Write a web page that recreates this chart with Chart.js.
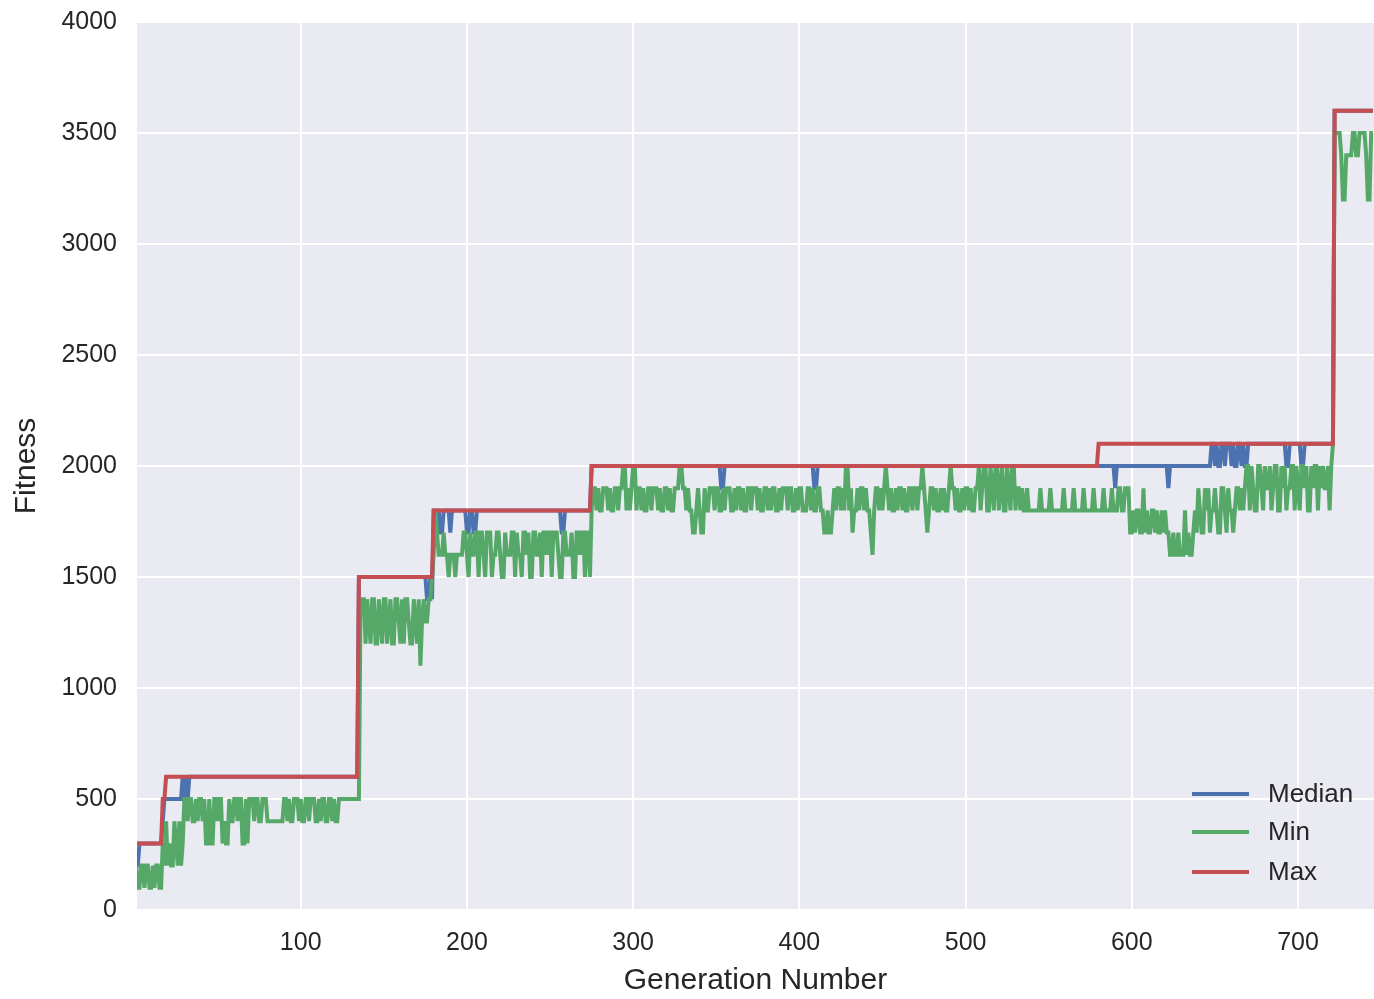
<!DOCTYPE html>
<html>
<head>
<meta charset="utf-8">
<script src="https://cdn.jsdelivr.net/npm/chart.js@4.4.1/dist/chart.umd.min.js"></script>
<style>
  body { margin: 0; background: #ffffff; }
  #wrap { width: 1374px; height: 999px; position: relative; }
</style>
</head>
<body>
<div id="wrap"><canvas id="myChart"></canvas></div>
<script>
// fitness per generation, stored as [value, number of generations] runs
const firstGeneration = 1;
const seriesNames = ["Median", "Min", "Max"];
const xTicks = [100, 200, 300, 400, 500, 600, 700];
const yTicks = [0, 500, 1000, 1500, 2000, 2500, 3000, 3500, 4000];

const maxRuns = [
  [300, 16], [500, 2], [600, 116], [1500, 45], [1800, 95],
  [2000, 305], [2100, 142], [3600, 24],
];

const medianRuns = [
  [200, 2], [300, 14], [400, 1], [500, 11], [600, 1], [500, 1], [600, 1], [500, 1], [600, 102],
  [1500, 41], [1400, 2], [1500, 1], [1400, 1],
  [1800, 4], [1700, 2], [1800, 4], [1700, 1], [1800, 9], [1700, 2], [1800, 2], [1700, 2],
  [1800, 51], [1700, 2], [1800, 16],
  [2000, 78], [1900, 2], [2000, 54], [1900, 2], [2000, 169],
  [2000, 10], [1900, 1], [2000, 31], [1900, 1], [2000, 25],
  [2100, 2], [2000, 1], [2100, 1], [2000, 2], [2100, 2], [2000, 1], [2100, 3], [2000, 1],
  [2100, 1], [2000, 2], [2100, 2], [2000, 1], [2100, 1], [2000, 2],
  [2100, 23], [2000, 2], [2100, 7], [2000, 2], [2100, 18],
  [3600, 24],
];

const minRuns = [
  // gens 1-29
  [200, 1], [100, 2], [200, 2], [100, 1], [200, 2], [100, 2], [200, 1], [100, 1], [200, 2], [100, 2],
  [300, 1], [200, 1], [400, 1], [200, 1], [300, 1], [200, 2], [400, 1], [300, 1], [200, 1], [400, 1], [200, 1], [300, 1],
  // gens 30-135
  [500, 2], [400, 1], [500, 2], [400, 2], [500, 1], [400, 1], [500, 2], [400, 1], [500, 1],
  [300, 2], [500, 1], [300, 2],
  [500, 2], [400, 1], [500, 2],
  [300, 1], [400, 1], [300, 2], [500, 1],
  [400, 2], [500, 2], [400, 1], [500, 2],
  [300, 2], [500, 1], [300, 1],
  [500, 3], [400, 1], [500, 2], [400, 2], [500, 3], [400, 1],
  [400, 9],
  [500, 2], [400, 1], [500, 1], [400, 2], [500, 3], [400, 1], [500, 1], [400, 2], [500, 2], [400, 1],
  [500, 3], [400, 2], [500, 1], [400, 1], [500, 2], [400, 2], [500, 2], [400, 1], [500, 1], [400, 2],
  [500, 13],
  // gens 136-179
  [1400, 3], [1200, 1], [1400, 1], [1300, 1], [1200, 1], [1400, 2], [1200, 2], [1400, 1], [1300, 1], [1200, 1],
  [1400, 2], [1200, 1], [1300, 1], [1400, 1], [1200, 2], [1400, 2], [1300, 1], [1200, 1], [1400, 1], [1200, 1],
  [1400, 2], [1300, 1], [1200, 2], [1400, 1], [1300, 1], [1200, 1], [1400, 1], [1100, 1], [1300, 1], [1400, 1],
  [1300, 2], [1400, 2], [1500, 1],
  // gens 180-274
  [1600, 1], [1800, 1], [1700, 1], [1600, 3], [1700, 1],
  [1600, 2], [1500, 1], [1600, 3], [1500, 1], [1600, 4],
  [1700, 2], [1600, 1], [1500, 1], [1700, 1], [1600, 2], [1700, 2], [1500, 1], [1700, 2], [1600, 1], [1500, 1],
  [1700, 3], [1500, 1], [1600, 2], [1700, 2], [1600, 1], [1500, 2], [1700, 1], [1600, 3], [1700, 2], [1500, 1],
  [1700, 1], [1600, 2], [1500, 1], [1700, 2], [1600, 1], [1700, 1], [1500, 2], [1700, 2], [1600, 2], [1700, 1],
  [1500, 1], [1700, 2], [1600, 1], [1700, 2], [1500, 1], [1700, 3], [1600, 1], [1500, 2], [1700, 2], [1600, 3],
  [1700, 1], [1500, 2], [1700, 2], [1600, 1], [1700, 2], [1500, 1], [1700, 2], [1500, 1],
  // gens 275-579
  [1800, 1], [1900, 2], [1800, 1], [1900, 1], [1800, 2], [1900, 3], [1800, 1], [1900, 1], [1800, 2], [1900, 2], [1800, 1], [1900, 2],
  [2000, 2], [1800, 1], [1900, 1], [1800, 1], [1900, 1], [2000, 2], [1800, 1],
  [1900, 2], [1800, 1], [1900, 1], [1800, 2], [1900, 2], [1800, 1], [1900, 3], [1800, 1], [1900, 1], [1800, 2],
  [1900, 2], [1800, 1], [1900, 1], [1800, 2], [1900, 3],
  [2000, 2], [1900, 2],
  [1800, 1], [1900, 1], [1800, 2], [1700, 2], [1800, 1], [1900, 1], [1800, 1], [1700, 2], [1900, 1], [1800, 2],
  [1900, 3], [1800, 1], [1900, 2], [1800, 2], [1900, 1], [1800, 1], [1900, 3], [1800, 2], [1900, 1], [1800, 1],
  [1900, 2], [1800, 1], [1900, 1], [1800, 2], [1900, 2], [1800, 1], [1900, 3], [1800, 1], [1900, 1], [1800, 2],
  [1900, 2], [1800, 1], [1900, 1], [1800, 1], [1900, 2], [1800, 2], [1900, 1], [1800, 1], [1900, 3], [1800, 1],
  [1900, 2], [1800, 2], [1900, 1], [1800, 1], [1900, 2], [1800, 3],
  [1900, 2], [1800, 1], [1900, 1], [1800, 2], [1900, 2], [1800, 2],
  [1700, 2], [1800, 1], [1700, 2], [1800, 1], [1900, 1],
  [1800, 1], [1900, 2], [1800, 1], [1900, 1], [1800, 1], [2000, 2], [1800, 1], [1900, 1], [1700, 1],
  [1800, 2], [1900, 1], [1800, 1], [1900, 2], [1800, 1], [1900, 1], [1800, 2], [1700, 1], [1600, 1],
  [1800, 1], [1900, 2], [1800, 1], [1900, 1], [1800, 1], [1900, 1], [2000, 1],
  [1900, 1], [1800, 1], [1900, 1], [1800, 2], [1900, 1], [1800, 1], [1900, 2], [1800, 1], [1900, 1], [1800, 2],
  [1900, 2], [1800, 1], [1900, 2], [1800, 1], [1900, 2], [2000, 1], [1900, 1], [1800, 1], [1700, 1],
  [1800, 1], [1900, 2], [1800, 1], [1900, 1], [1800, 2], [1900, 1], [1800, 1], [1900, 1], [1800, 2], [1900, 1],
  [2000, 1], [1900, 2], [1800, 1], [1900, 1], [1800, 2], [1900, 1], [1800, 1], [1900, 2], [1800, 1], [1900, 1],
  [1800, 2], [1900, 2],
  [2000, 1], [1800, 1], [1900, 1], [2000, 2], [1800, 2], [2000, 1], [1900, 1], [1800, 1], [2000, 2], [1800, 1],
  [1900, 1], [2000, 1], [1800, 2], [2000, 1], [1900, 1], [1800, 1], [2000, 2], [1800, 1], [1900, 2], [1800, 1],
  [1900, 1], [1800, 2], [1900, 1], [1800, 1],
  [1800, 6], [1900, 1], [1800, 5], [1900, 1], [1800, 7], [1900, 1], [1800, 5], [1900, 1], [1800, 5], [1900, 1],
  [1800, 5], [1900, 1], [1800, 2],
  // gens 580-721
  [1800, 3], [1900, 1], [1800, 4], [1900, 1], [1800, 3], [1900, 2], [1800, 2], [1900, 3],
  [1700, 2], [1800, 1], [1700, 1], [1800, 2], [1700, 2], [1900, 1], [1700, 1], [1800, 1], [1700, 2], [1800, 2],
  [1700, 1], [1800, 1], [1700, 2], [1800, 1], [1700, 1], [1800, 1], [1700, 2],
  [1600, 2], [1700, 1], [1600, 2], [1700, 1], [1600, 3], [1800, 1], [1600, 1], [1700, 1], [1600, 2], [1700, 1],
  [1800, 1], [1700, 1], [1900, 1], [1800, 1], [1700, 2], [1900, 1], [1800, 1], [1900, 1], [1700, 1], [1800, 2],
  [1900, 1], [1800, 1], [1700, 2], [1900, 2], [1800, 1], [1700, 1], [1900, 1], [1800, 2], [1700, 1], [1800, 1],
  [1900, 2], [1800, 1], [1900, 1], [1800, 1], [1900, 1],
  [2000, 2], [1800, 1], [2000, 1], [1900, 1], [1800, 2], [2000, 2], [1900, 1], [1800, 1], [2000, 1], [1900, 2],
  [2000, 1], [1800, 1], [1900, 1], [2000, 2], [1800, 2], [2000, 1], [1900, 1], [2000, 1], [1800, 1], [1900, 2],
  [2000, 2], [1800, 1], [2000, 1], [1900, 1], [1800, 1], [2000, 2], [1900, 1], [2000, 1], [1800, 2], [2000, 1],
  [1900, 1], [2000, 2], [1800, 1], [2000, 1], [1900, 1], [2000, 1], [1900, 2], [2000, 1], [1800, 1], [2000, 1],
  [2100, 1],
  // gens 722-745
  [3500, 4], [3400, 1], [3200, 2], [3400, 2], [3400, 2], [3500, 2], [3400, 2], [3500, 4], [3400, 1], [3200, 2], [3500, 2],
];

const colors = ["#4C72B0", "#55A868", "#C44E52"];
const fontFamily = "'Liberation Sans', Arial, sans-serif";

function expand(runs) {
  const out = [];
  runs.forEach(([v, n]) => {
    for (let i = 0; i < n; i++) out.push(v);
  });
  return out.map((y, i) => ({ x: firstGeneration + i, y: y }));
}

const seriesData = [expand(medianRuns), expand(minRuns), expand(maxRuns)];

const bgPlugin = {
  id: "plotBg",
  beforeDraw(chart) {
    const { ctx, chartArea } = chart;
    ctx.save();
    ctx.fillStyle = "#EAEAF2";
    ctx.fillRect(chartArea.left, chartArea.top, chartArea.right - chartArea.left, chartArea.bottom - chartArea.top);
    ctx.restore();
  },
};

const legendPlugin = {
  id: "innerLegend",
  afterDatasetsDraw(chart) {
    const { ctx, chartArea } = chart;
    const rows = [116, 78, 38];
    ctx.save();
    ctx.font = "26px " + fontFamily;
    ctx.textBaseline = "middle";
    chart.data.datasets.forEach((ds, i) => {
      const y = chartArea.bottom - rows[i];
      const x = chartArea.right - 182;
      ctx.strokeStyle = ds.borderColor;
      ctx.lineWidth = 4;
      ctx.beginPath();
      ctx.moveTo(x, y);
      ctx.lineTo(x + 57, y);
      ctx.stroke();
      ctx.fillStyle = "#262626";
      ctx.fillText(ds.label, x + 76, y + 1);
    });
    ctx.restore();
  },
};

const ctx = document.getElementById("myChart").getContext("2d");
const myChart = new Chart(ctx, {
  type: "line",
  data: {
    datasets: seriesNames.map((name, i) => ({
      label: name,
      data: seriesData[i],
      borderColor: colors[i],
      backgroundColor: colors[i],
      borderWidth: 4,
      pointRadius: 0,
      tension: 0,
      order: 2 - i,
    })),
  },
  options: {
    responsive: true,
    maintainAspectRatio: false,
    animation: false,
    events: [],
    layout: { padding: { top: 22, right: 0, left: 0, bottom: 0 } },
    plugins: {
      legend: { display: false },
      tooltip: { enabled: false },
    },
    scales: {
      x: {
        type: "linear",
        min: 1.5,
        max: 745.7,
        afterBuildTicks: (axis) => { axis.ticks = xTicks.map((v) => ({ value: v })); },
        afterFit: (axis) => {
          axis.height = 89;
          axis.paddingLeft = 0;
          axis.paddingRight = 0;
        },
        grid: { color: "#ffffff", lineWidth: 2, drawTicks: false },
        border: { display: false },
        ticks: {
          padding: 18,
          maxRotation: 0,
          color: "#262626",
          font: { family: fontFamily, size: 25 },
          callback: (v) => String(v),
        },
        title: {
          display: true,
          text: "Generation Number",
          color: "#262626",
          padding: { top: 0, bottom: 0 },
          font: { family: fontFamily, size: 30 },
        },
      },
      y: {
        min: 0,
        max: 4000,
        afterBuildTicks: (axis) => { axis.ticks = yTicks.map((v) => ({ value: v })); },
        afterFit: (axis) => {
          axis.width = 137;
          axis.paddingTop = 0;
          axis.paddingBottom = 0;
        },
        grid: { color: "#ffffff", lineWidth: 2, drawTicks: false },
        border: { display: false },
        ticks: {
          padding: 20,
          color: "#262626",
          font: { family: fontFamily, size: 25 },
          callback: (v) => String(v),
        },
        title: {
          display: true,
          text: "Fitness",
          color: "#262626",
          padding: { top: 9, bottom: 0 },
          font: { family: fontFamily, size: 30 },
        },
      },
    },
  },
  plugins: [bgPlugin, legendPlugin],
});
</script>
</body>
</html>
